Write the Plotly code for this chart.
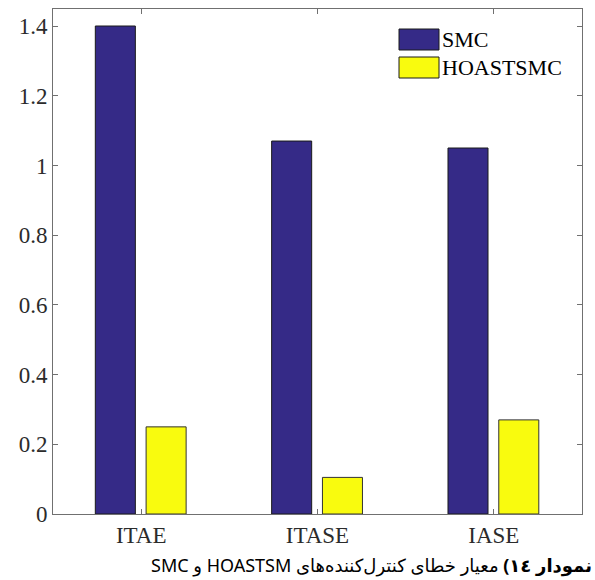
import plotly.graph_objects as go

# Error criteria compared for the two controllers
criteria = ["ITAE", "ITASE", "IASE"]
smc = [1.40, 1.07, 1.05]
hoastsmc = [0.25, 0.105, 0.27]
series_names = ["SMC", "HOASTSMC"]
y_ticks = [0, 0.2, 0.4, 0.6, 0.8, 1.0, 1.2, 1.4]
y_tick_text = ["0", "0.2", "0.4", "0.6", "0.8", "1", "1.2", "1.4"]
caption = "\u202b<b>نمودار ١٤)</b> معیار خطای کنترل‌کننده‌های HOASTSM و SMC\u202c"

BLUE = "#352a87"
YELLOW = "#f9fb0e"
EDGE = "#1a1a1a"
AXIS = "#707070"
SERIF = "Liberation Serif, Times New Roman, serif"
TEXT = "#2b2b2b"

W, H = 595, 580
L, R, T, B = 53, 13, 9, 66
PW, PH = W - L - R, H - T - B

x_pos = [1, 2, 3]
bar_w = 0.227

fig = go.Figure()
fig.add_trace(go.Bar(
    x=x_pos, y=smc, name=series_names[0], width=bar_w, offset=-0.26,
    marker=dict(color=BLUE, line=dict(color=EDGE, width=1)),
    showlegend=False,
))
fig.add_trace(go.Bar(
    x=x_pos, y=hoastsmc, name=series_names[1], width=bar_w, offset=0.028,
    marker=dict(color=YELLOW, line=dict(color="#333333", width=1)),
    showlegend=False,
))


def px_x(p):
    return (p - L) / PW


def px_y(p):
    return (H - B - p) / PH


# Hand-drawn legend in the upper right corner
legend_rows = [(series_names[0], BLUE, 29), (series_names[1], YELLOW, 57)]
shapes = []
annotations = []
for name, color, top in legend_rows:
    shapes.append(dict(
        type="rect", xref="paper", yref="paper",
        x0=px_x(399), x1=px_x(439), y0=px_y(top + 21), y1=px_y(top),
        fillcolor=color, line=dict(color=EDGE, width=1),
    ))
    annotations.append(dict(
        xref="paper", yref="paper", x=px_x(440), y=px_y(top + 10.5),
        xanchor="left", yanchor="middle", text=name, showarrow=False,
        font=dict(family=SERIF, size=22, color="#000000"),
    ))

annotations.append(dict(
    xref="paper", yref="paper", x=px_x(594), y=px_y(565),
    xanchor="right", yanchor="middle", text=caption, showarrow=False,
    font=dict(family="Noto Sans, DejaVu Sans, sans-serif", size=18, color="#000000"),
))

fig.update_layout(
    width=W, height=H,
    margin=dict(l=L, r=R, t=T, b=B, pad=0),
    paper_bgcolor="white", plot_bgcolor="white",
    barmode="overlay",
    shapes=shapes, annotations=annotations,
    font=dict(family=SERIF, size=22, color=TEXT),
)
fig.update_xaxes(
    range=[0.5, 3.5], tickvals=x_pos, ticktext=criteria,
    showgrid=False, zeroline=False, showline=True, linecolor=AXIS, linewidth=1,
    mirror="ticks", ticks="inside", ticklen=5, tickcolor=AXIS,
    tickfont=dict(family=SERIF, size=23, color=TEXT),
)
fig.update_yaxes(
    range=[0, 1.4488], tickvals=y_ticks, ticktext=y_tick_text,
    showgrid=False, zeroline=False, showline=True, linecolor=AXIS, linewidth=1,
    mirror="ticks", ticks="inside", ticklen=5, tickcolor=AXIS,
    tickfont=dict(family=SERIF, size=23, color=TEXT),
)

fig.write_html("out.html")
